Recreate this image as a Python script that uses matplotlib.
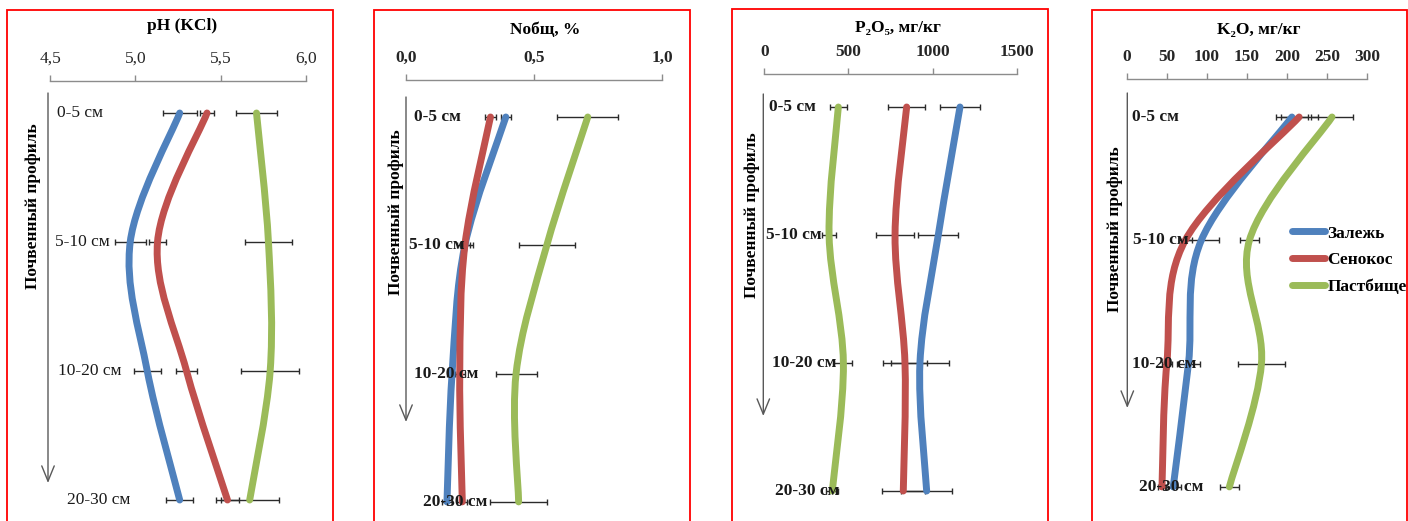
import numpy as np
import matplotlib.pyplot as plt
from matplotlib.path import Path
from matplotlib.patches import PathPatch, Rectangle
from matplotlib.lines import Line2D

plt.rcParams['font.family'] = ['Liberation Serif', 'DejaVu Serif']

# глубины отбора и варианты угодий
depths = ['0-5 см', '5-10 см', '10-20 см', '20-30 см']
land_uses = ['Залежь', 'Сенокос', 'Пастбище']
colors = ['#4F81BD', '#C0504D', '#9BBB59']

# pH (KCl)
ph_zalezh = [5.26, 4.97, 5.07, 5.26]
ph_senokos = [5.42, 5.13, 5.30, 5.54]
ph_pastb = [5.71, 5.78, 5.79, 5.67]
ph_zalezh_err = [0.10, 0.09, 0.08, 0.08]
ph_senokos_err = [0.04, 0.05, 0.06, 0.07]
ph_pastb_err = [0.12, 0.14, 0.17, 0.17]
ph_ticks = [4.5, 5.0, 5.5, 6.0]
ph_ticklabels = ['4,5', '5,0', '5,5', '6,0']

# N общий, %
n_zalezh = [0.39, 0.23, 0.18, 0.16]
n_senokos = [0.33, 0.23, 0.21, 0.22]
n_pastb = [0.71, 0.55, 0.43, 0.44]
n_zalezh_err = [0.02, 0.03, 0.02, 0.02]
n_senokos_err = [0.02, 0.02, 0.02, 0.02]
n_pastb_err = [0.12, 0.11, 0.08, 0.11]
n_ticks = [0.0, 0.5, 1.0]
n_ticklabels = ['0,0', '0,5', '1,0']

# P2O5, мг/кг
p_zalezh = [1163, 1034, 925, 965]
p_senokos = [846, 777, 836, 826]
p_pastb = [440, 385, 470, 404]
p_zalezh_err = [117, 119, 174, 153]
p_senokos_err = [111, 115, 131, 129]
p_pastb_err = [50, 40, 53, 35]
p_ticks = [0, 500, 1000, 1500]
p_ticklabels = ['0', '500', '1000', '1500']

# K2O, мг/кг
k_zalezh = [206, 93, 77, 58]
k_senokos = [215, 73, 50, 44]
k_pastb = [256, 153, 168, 128]
k_zalezh_err = [20, 22, 14, 10]
k_senokos_err = [23, 8, 6, 5]
k_pastb_err = [26, 12, 29, 12]
k_ticks = [0, 50, 100, 150, 200, 250, 300]
k_ticklabels = ['0', '50', '100', '150', '200', '250', '300']

W, H = 1408, 521
fig = plt.figure(figsize=(W / 100, H / 100), dpi=100)


def smooth_path(xs, ys):
    """Сглаженная линия (кривые Безье через точки, как в Excel)."""
    pts = np.column_stack([xs, ys]).astype(float)
    n = len(pts)
    verts = [pts[0]]
    codes = [Path.MOVETO]
    for i in range(n - 1):
        p0 = pts[max(i - 1, 0)]
        p1 = pts[i]
        p2 = pts[i + 1]
        p3 = pts[min(i + 2, n - 1)]
        verts += [p1 + (p2 - p0) / 6, p2 - (p3 - p1) / 6, p2]
        codes += [Path.CURVE4] * 3
    return Path(verts, codes)


def draw_panel(lay, title, ticks, ticklabels, series, errors, bold):
    weight = 'bold' if bold else 'normal'

    # красная рамка
    bx0, bx1, btop = lay['box']
    fig.add_artist(Rectangle((bx0 / W, -0.05), (bx1 - bx0) / W, 1.05 - btop / H,
                             transform=fig.transFigure, fill=False,
                             edgecolor='#ff0000', lw=1.3))

    x0, x1 = lay['axis_px']
    ay, c0, step = lay['axis_y'], lay['cat0_y'], lay['step']
    ax = fig.add_axes([x0 / W, 0, (x1 - x0) / W, 1 - ay / H])
    ax.set_xlim(ticks[0], ticks[-1])
    ax.set_ylim((H - c0) / step, -(c0 - ay) / step)
    ax.patch.set_visible(False)

    ax.xaxis.tick_top()
    ax.set_xticks(ticks)
    ax.set_xticklabels(ticklabels, fontsize=12.5, fontweight=weight, color='#262626')
    ax.tick_params(axis='x', direction='out', length=4, width=1, color='#8c8c8c', pad=6)
    ax.set_yticks([])
    for side in ['left', 'right', 'bottom']:
        ax.spines[side].set_visible(False)
    ax.spines['top'].set_color('#8c8c8c')
    ax.spines['top'].set_linewidth(1)

    ypos = np.arange(len(depths))
    for vals, errs, c in zip(series, errors, colors):
        ax.errorbar(vals, ypos, xerr=errs, fmt='none', ecolor='#2b2b2b',
                    elinewidth=1, capsize=2.5, capthick=1, zorder=2, clip_on=False)
        ax.add_patch(PathPatch(smooth_path(vals, ypos), fill=False, edgecolor=c,
                               lw=5, capstyle='round', joinstyle='round',
                               zorder=3, clip_on=False))

    # заголовок и подпись оси
    tx, ty = lay['title']
    fig.text(tx / W, 1 - ty / H, title, ha='center', va='center',
             fontsize=12.5, fontweight='bold')
    lx, ly = lay['ylabel']
    fig.text(lx / W, 1 - ly / H, 'Почвенный профиль', rotation=90, ha='center',
             va='center', fontsize=12.5, fontweight='bold')

    # стрелка вниз по профилю
    arx, ary0, ary1 = lay['arrow']
    ax.annotate('', xy=(arx, H - ary1), xytext=(arx, H - ary0),
                xycoords='figure pixels', textcoords='figure pixels',
                arrowprops=dict(arrowstyle='->,head_length=1.1,head_width=0.45',
                                color='#595959', lw=1, shrinkA=0, shrinkB=0))

    for i, (name, lx0) in enumerate(zip(depths, lay['labels_x'])):
        fig.text(lx0 / W, 1 - (c0 + i * step) / H, name, ha='left', va='center',
                 fontsize=12.5, fontweight=weight, color='#1a1a1a')
    return ax


layouts = [
    dict(box=(7.5, 332.5, 10.5), axis_px=(50, 306), axis_y=81, cat0_y=113, step=129,
         title=(182, 26), ylabel=(33, 206), arrow=(48, 93, 483),
         labels_x=[57, 55, 58, 67]),
    dict(box=(374, 690, 10.5), axis_px=(406, 662), axis_y=80, cat0_y=117, step=128.3,
         title=(545, 30), ylabel=(396, 212), arrow=(406, 97, 422),
         labels_x=[414, 409, 414, 423]),
    dict(box=(732, 1047.5, 9.5), axis_px=(764.3, 1016.7), axis_y=74, cat0_y=107, step=128,
         title=(898, 28), ylabel=(752, 215), arrow=(763.3, 94, 416),
         labels_x=[769, 766, 772, 775]),
    dict(box=(1091.7, 1406.5, 10.5), axis_px=(1126.7, 1367.3), axis_y=79, cat0_y=117,
         step=123.3, title=(1259, 30), ylabel=(1115, 229), arrow=(1127.3, 93, 408),
         labels_x=[1132, 1133, 1132, 1139]),
]

draw_panel(layouts[0], 'pH (KCl)', ph_ticks, ph_ticklabels,
           [ph_zalezh, ph_senokos, ph_pastb],
           [ph_zalezh_err, ph_senokos_err, ph_pastb_err], bold=False)
draw_panel(layouts[1], 'Nобщ, %', n_ticks, n_ticklabels,
           [n_zalezh, n_senokos, n_pastb],
           [n_zalezh_err, n_senokos_err, n_pastb_err], bold=True)
draw_panel(layouts[2], 'P₂O₅, мг/кг', p_ticks, p_ticklabels,
           [p_zalezh, p_senokos, p_pastb],
           [p_zalezh_err, p_senokos_err, p_pastb_err], bold=True)
draw_panel(layouts[3], 'K₂O, мг/кг', k_ticks, k_ticklabels,
           [k_zalezh, k_senokos, k_pastb],
           [k_zalezh_err, k_senokos_err, k_pastb_err], bold=True)

handles = [Line2D([], [], color=c, lw=5, solid_capstyle='round') for c in colors]
fig.legend(handles, land_uses, loc='center left', bbox_to_anchor=(1292 / W, 1 - 260 / H),
           frameon=False, handlelength=1.9, handletextpad=0.15, labelspacing=0.6,
           borderpad=0, borderaxespad=0, prop=dict(weight='bold', size=12.5))

fig.savefig('out.png', dpi=100)
